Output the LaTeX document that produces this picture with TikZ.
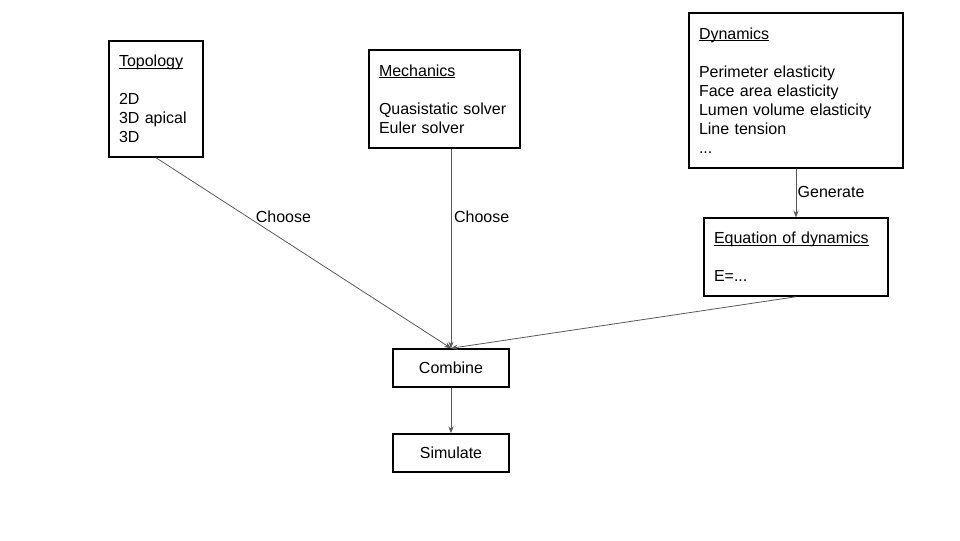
\documentclass[tikz,border=0pt]{standalone}
\usepackage{fontspec}
\setmainfont{Liberation Sans}
\usetikzlibrary{positioning, arrows.meta}
\newcommand{\headline}[1]{\setbox0\hbox{#1}\rlap{\rule[-1.4pt]{\wd0}{0.6pt}}#1}

\begin{document}
\begin{tikzpicture}[x=0.75pt, y=-0.75pt, rec/.style={draw, line width=1.1pt, inner sep=0pt, inner xsep=7.5pt, align=left, font=\fontsize{12}{14.25}\selectfont}, lnk/.style={draw=black!65, line width=0.6pt, -{Stealth[length=5pt, width=4pt]}}, lab/.style={font=\fontsize{12}{14}\selectfont, inner sep=1pt, anchor=west}]
          \useasboundingbox (0,0) rectangle (960,540);

          \node[rec, minimum width=70.5pt, minimum height=87pt, text width=55.5pt] at (156,99) (topo) {\headline{Topology}\\[14.25pt]2D\\3D apical\\3D};
          \node[rec, minimum width=113.25pt, minimum height=73.5pt, text width=98.25pt] at (444.5,99) (mech) {\headline{Mechanics}\\[14.25pt]Quasistatic solver\\Euler solver};
          \node[rec, minimum width=160.5pt, minimum height=116.25pt, text width=145.5pt] at (796,90.5) (dyn) {\headline{Dynamics}\\[14.25pt]Perimeter elasticity\\Face area elasticity\\Lumen volume elasticity\\Line tension\\...};
          \node[rec, minimum width=138pt, minimum height=58.5pt, text width=123pt] at (796,257) (eq) {\headline{Equation of dynamics}\\[14.25pt]E=...};

          \node[rec, align=center, minimum width=87pt, minimum height=28.5pt, text width=72pt] at (451,368) (comb) {Combine};
          \node[rec, align=center, minimum width=87pt, minimum height=28.5pt, text width=72pt, below=34pt of comb] (sim) {Simulate};

          \draw[lnk] (topo.south) -- node[lab, pos=0.31, xshift=5pt] {Choose} (comb.north);
          \draw[lnk] (mech.south -| comb.north) -- node[lab, pos=0.34, xshift=1pt] {Choose} (comb.north);
          \draw[lnk] (dyn.south) -- node[lab, pos=0.48] {Generate} (eq.north);
          \draw[lnk] (eq.south) -- (comb.north);
          \draw[lnk] (comb) -- (sim);

      \end{tikzpicture}
\end{document}
